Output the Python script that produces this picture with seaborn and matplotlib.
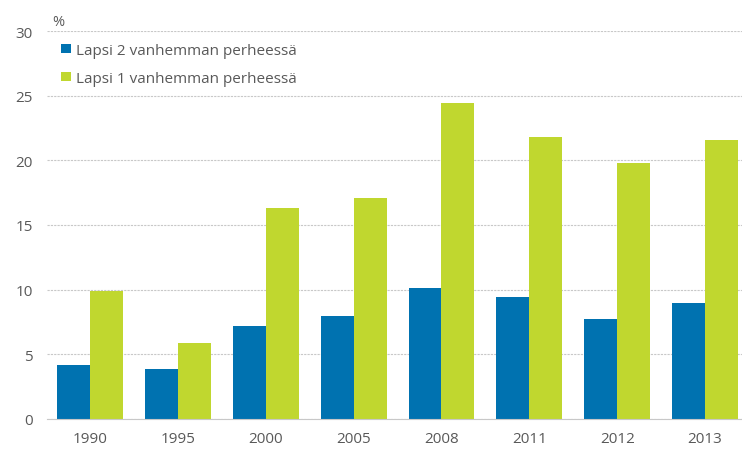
import pandas as pd
import numpy as np
import matplotlib.pyplot as plt
import seaborn as sns

# Data
years = ['1990', '1995', '2000', '2005', '2008', '2011', '2012', '2013']
two_parent = [4.2, 3.9, 7.2, 8.0, 10.1, 9.4, 7.7, 9.0]
one_parent = [9.9, 5.9, 16.3, 17.1, 24.4, 21.8, 19.8, 21.6]
series_names = ['Lapsi 2 vanhemman perheessä', 'Lapsi 1 vanhemman perheessä']

df = pd.DataFrame({
    'vuosi': years * 2,
    'osuus': two_parent + one_parent,
    'perhe': [series_names[0]] * len(years) + [series_names[1]] * len(years),
})

sns.set_style('white')
plt.rcParams['font.family'] = ['Open Sans', 'DejaVu Sans']

text_color = '#595959'
fig = plt.figure(figsize=(7.42, 4.52), dpi=100)
ax = fig.add_axes([0.0633, 0.0708, 0.9367, 0.8584])

sns.barplot(data=df, x='vuosi', y='osuus', hue='perhe', order=years,
            hue_order=series_names, palette=['#0072B0', '#C0D72F'],
            width=0.75, linewidth=0, saturation=1, ax=ax)

ax.set_ylim(0, 30)
ax.set_yticks(range(0, 31, 5))
ax.set_xlim(-0.49, 7.42)
ax.set_xlabel('')
ax.set_ylabel('')
ax.set_axisbelow(True)
ax.yaxis.grid(True, linestyle=(0, (2, 1)), color='#c8c8c8', linewidth=0.8)
for side in ['top', 'right', 'left']:
    ax.spines[side].set_visible(False)
ax.spines['bottom'].set_color('#c8c8c8')
ax.tick_params(axis='both', length=0, labelsize=11, colors=text_color)
ax.tick_params(axis='x', pad=9)
ax.tick_params(axis='y', pad=10)

ax.text(0.008, 1.004, '%', transform=ax.transAxes, fontsize=10.5,
        color=text_color, ha='left', va='bottom')

leg = ax.legend(loc='upper left', bbox_to_anchor=(0.012, 0.985), frameon=False,
                fontsize=11, handlelength=0.6, handleheight=0.6,
                handletextpad=0.35, labelspacing=0.85, borderaxespad=0)
for t in leg.get_texts():
    t.set_color(text_color)

fig.savefig('out.png', dpi=100)
